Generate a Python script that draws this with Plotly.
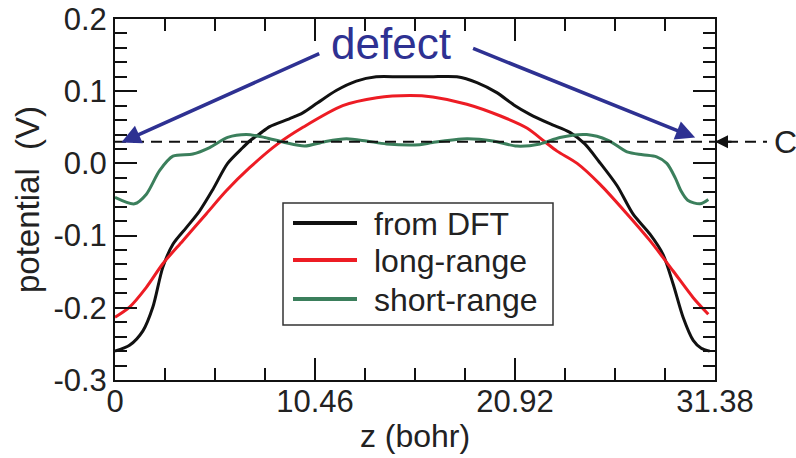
import plotly.graph_objects as go

# ---- data: electrostatic potential along z ----
z_dft = [0.0, 0.76, 1.46, 1.98, 2.50, 3.03, 3.73, 4.42, 5.12, 5.89, 6.69, 7.04, 7.57, 8.09,
         9.14, 9.82, 10.60, 11.57, 12.62, 13.66, 14.90, 16.47, 17.88, 18.93, 19.97, 20.86,
         21.70, 22.74, 23.79, 24.57, 25.30, 26.26, 27.09, 27.98, 28.66, 29.19, 29.71, 30.24,
         30.66, 31.10]
v_dft = [-0.260, -0.252, -0.232, -0.199, -0.144, -0.112, -0.089, -0.066, -0.036, 0.000, 0.022,
         0.031, 0.041, 0.051, 0.062, 0.070, 0.084, 0.101, 0.114, 0.120, 0.120, 0.120, 0.120,
         0.112, 0.098, 0.081, 0.068, 0.055, 0.043, 0.027, 0.003, -0.031, -0.070, -0.098,
         -0.126, -0.167, -0.213, -0.245, -0.256, -0.260]

z_lr = [0.0, 0.76, 1.63, 2.50, 3.55, 4.77, 5.82, 7.04, 8.51, 9.83, 11.91, 13.69, 15.42, 16.62,
        18.40, 20.13, 21.54, 22.48, 23.12, 24.17, 25.37, 26.78, 27.98, 29.19, 30.24, 31.03]
v_lr = [-0.213, -0.199, -0.172, -0.139, -0.107, -0.070, -0.038, -0.006, 0.027, 0.050, 0.080,
        0.091, 0.094, 0.092, 0.082, 0.066, 0.049, 0.030, 0.017, 0.000, -0.029, -0.070, -0.107,
        -0.149, -0.186, -0.209]

z_sr = [0.0, 1.02, 1.63, 2.33, 3.03, 4.07, 4.95, 5.89, 6.87, 7.83, 8.87, 9.92, 10.97, 12.10,
        13.15, 14.20, 15.94, 16.62, 18.40, 19.76, 21.02, 22.23, 23.27, 24.67, 25.79, 26.78,
        27.60, 28.33, 28.86, 29.30, 29.60, 29.95, 30.60, 31.03]
v_sr = [-0.047, -0.056, -0.043, -0.010, 0.010, 0.013, 0.022, 0.036, 0.040, 0.036, 0.029,
        0.024, 0.030, 0.034, 0.031, 0.027, 0.026, 0.029, 0.034, 0.031, 0.024, 0.027, 0.036,
        0.040, 0.032, 0.016, 0.012, 0.009, 0.000, -0.020, -0.038, -0.051, -0.056, -0.050]

c_level = 0.03  # alignment constant C

series_names = ["from DFT", "long-range", "short-range"]
series_colors = ["#111111", "#ED1C24", "#3B7F5C"]

x_tickvals = [0, 10.46, 20.92, 31.38]
x_ticktext = ["0", "10.46", "20.92", "31.38"]
y_tickvals = [-0.3, -0.2, -0.1, 0.0, 0.1, 0.2]
y_ticktext = ["-0.3", "-0.2", "-0.1", "0.0", "0.1", "0.2"]

# ---- layout geometry (pixels) ----
W, H = 796, 458
ML, MR, MT, MB = 115, 81, 19, 78
PW, PH = W - ML - MR, H - MT - MB


def px(x):
    return (x - ML) / PW


def py(y):
    return (H - MB - y) / PH


FONT = "Liberation Sans, Arial, Helvetica, sans-serif"
BLUE = "#2E3192"

fig = go.Figure()
for zs, vs, name, col in zip([z_dft, z_lr, z_sr], [v_dft, v_lr, v_sr], series_names, series_colors):
    fig.add_trace(go.Scatter(x=zs, y=vs, mode="lines", name=name,
                             line=dict(color=col, width=3, shape="spline", smoothing=0.8),
                             showlegend=False))

axis_common = dict(showline=True, linecolor="#111", linewidth=2, mirror="allticks",
                   ticks="inside", tickcolor="#111", tickwidth=2, showgrid=False,
                   zeroline=False, automargin=False,
                   tickfont=dict(family=FONT, size=31, color="#222"))

fig.update_xaxes(range=[0, 31.38], tickmode="array", tickvals=x_tickvals, ticktext=x_ticktext,
                 ticklen=22, ticklabelstandoff=-7,
                 minor=dict(ticks="inside", tick0=0, dtick=10.46 / 4, ticklen=12,
                            tickcolor="#111", tickwidth=2),
                 title=dict(text="z (bohr)", font=dict(family=FONT, size=32, color="#222"),
                            standoff=6),
                 **axis_common)
fig.update_yaxes(range=[-0.3, 0.2], tickmode="array", tickvals=y_tickvals, ticktext=y_ticktext,
                 ticklen=22,
                 minor=dict(ticks="inside", tick0=0, dtick=0.02, ticklen=12,
                            tickcolor="#111", tickwidth=2),
                 title=dict(text="potential\u00a0\u00a0(V)",
                            font=dict(family=FONT, size=33, color="#222"), standoff=4),
                 **axis_common)

shapes = []
# dashed level line, running past the right axis
shapes.append(dict(type="line", xref="paper", yref="paper", x0=0, x1=px(767),
                   y0=(c_level + 0.3) / 0.5, y1=(c_level + 0.3) / 0.5,
                   line=dict(color="#111", width=2, dash="11px,7px")))
# legend box and samples
shapes.append(dict(type="rect", xref="paper", yref="paper", x0=px(283), x1=px(553),
                   y0=py(325), y1=py(203), line=dict(color="#333", width=1.5),
                   fillcolor="white", layer="above"))
legend_rows = [223, 260, 299]
for yy, col in zip(legend_rows, series_colors):
    shapes.append(dict(type="line", xref="paper", yref="paper", x0=px(293), x1=px(357),
                       y0=py(yy), y1=py(yy), line=dict(color=col, width=4)))

annotations = []
for yy, name in zip(legend_rows, series_names):
    annotations.append(dict(text=name, xref="paper", yref="paper", x=px(372), y=py(yy + 1),
                            xanchor="left", yanchor="middle", showarrow=False,
                            font=dict(family=FONT, size=32, color="#222")))

# "defect" label with two arrows
annotations.append(dict(text="defect", x=14.45, y=0.166, xref="x", yref="y",
                        showarrow=False, font=dict(family=FONT, size=44, color=BLUE)))
for tip, tail in [((0.33, 0.029), (10.76, 0.153)), ((30.34, 0.0357), (18.65, 0.160))]:
    annotations.append(dict(text="", x=tip[0], y=tip[1], ax=tail[0], ay=tail[1],
                            xref="x", yref="y", axref="x", ayref="y", showarrow=True,
                            arrowhead=2, arrowsize=1.1, arrowwidth=3.5, arrowcolor=BLUE,
                            standoff=0))
# arrow marking C on the right axis
annotations.append(dict(text="", xref="paper", yref="paper", x=1.0,
                        y=(c_level + 0.3) / 0.5, ax=18, ay=0, showarrow=True,
                        arrowhead=2, arrowsize=1.3, arrowwidth=2, arrowcolor="#111",
                        standoff=0))
annotations.append(dict(text="C", xref="paper", yref="paper", x=px(772),
                        y=(c_level + 0.3) / 0.5, xanchor="left", yanchor="middle",
                        showarrow=False, font=dict(family=FONT, size=32, color="#222")))

fig.update_layout(width=W, height=H, margin=dict(l=ML, r=MR, t=MT, b=MB),
                  paper_bgcolor="white", plot_bgcolor="white",
                  shapes=shapes, annotations=annotations, showlegend=False,
                  font=dict(family=FONT))

fig.write_html("out.html")
